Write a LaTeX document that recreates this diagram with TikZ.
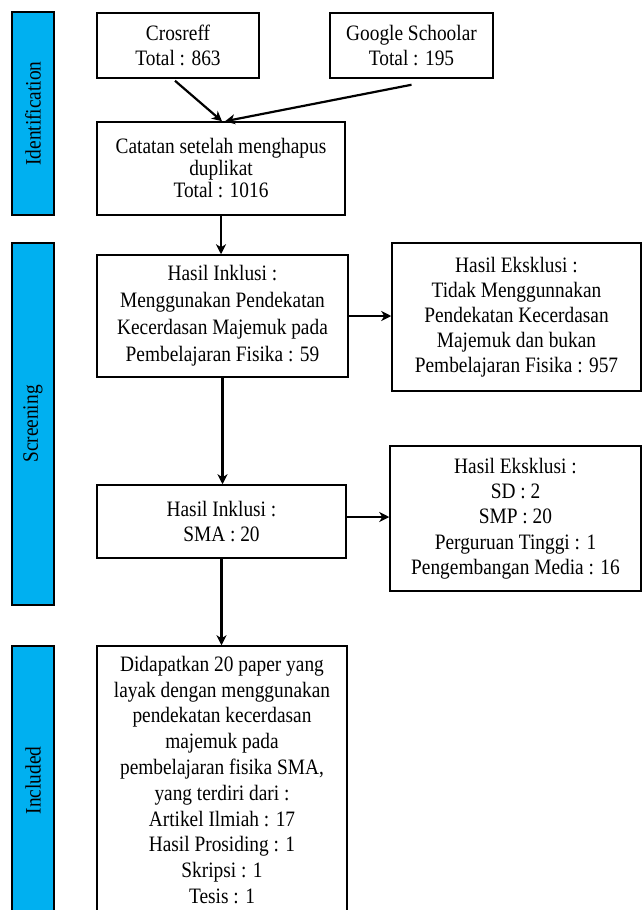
\documentclass[tikz,border=0pt]{standalone}
\usepackage{fontspec}
\usepackage{graphicx}
\setmainfont{Liberation Serif}[FakeStretch=0.88]
\usetikzlibrary{arrows.meta}
\definecolor{barblue}{HTML}{00B0F0}
\tikzset{
  box/.style={draw=black, line width=1.5pt, fill=white, align=center, inner sep=0pt, font=\fontsize{22}{25}\selectfont},
  bar/.style={draw=black, line width=1.5pt, fill=barblue, inner sep=0pt, font=\fontsize{22}{25}\selectfont},
  arr/.style={line width=2.2pt, -{Stealth[length=10pt,width=10pt,inset=3pt]}},
}
\begin{document}
\begin{tikzpicture}[x=1pt,y=-1pt]
\useasboundingbox (0,0) rectangle (643,910);
\clip (0,0) rectangle (643,910);
\fill[white] (0,0) rectangle (643,910);
% stage bars
\node[bar, minimum width=42, minimum height=203] (id) at (33,113.5) {\rotatebox{90}{Identification}};
\node[bar, minimum width=42, minimum height=362] (scr) at (33,424) {\rotatebox{90}{Screening}};
\node[bar, minimum width=42, minimum height=269] (inc) at (33,780.5) {\rotatebox{90}{Included}};
% boxes
\node[box, minimum width=162, minimum height=65] (crf) at (178,45.5) {Crosreff\\Total : 863};
\node[box, minimum width=163, minimum height=65] (ggl) at (411.5,45.5) {Google Schoolar\\Total : 195};
\node[box, minimum width=248, minimum height=93, font=\fontsize{22}{22}\selectfont] (cat) at (221,168.5) {Catatan setelah menghapus\\duplikat\\Total : 1016};
\node[box, minimum width=251, minimum height=122, font=\fontsize{22}{27}\selectfont] (hi1) at (222.5,316) {Hasil Inklusi :\\Menggunakan Pendekatan\\Kecerdasan Majemuk pada\\Pembelajaran Fisika : 59};
\node[box, minimum width=249, minimum height=148] (ek1) at (516.5,317) {Hasil Eksklusi :\\Tidak Menggunnakan\\Pendekatan Kecerdasan\\Majemuk dan bukan\\Pembelajaran Fisika : 957};
\node[box, minimum width=249, minimum height=73] (hi2) at (221.5,521.5) {Hasil Inklusi :\\SMA : 20};
\node[box, minimum width=251, minimum height=145, font=\fontsize{22}{25.3}\selectfont] (ek2) at (515.5,518.5) {Hasil Eksklusi :\\SD : 2\\SMP : 20\\Perguruan Tinggi : 1\\Pengembangan Media : 16};
\node[box, minimum width=250, minimum height=268, font=\fontsize{22}{25.8}\selectfont] (fin) at (222,780) {Didapatkan 20 paper yang\\layak dengan menggunakan\\pendekatan kecerdasan\\majemuk pada\\pembelajaran fisika SMA,\\yang terdiri dari :\\Artikel Ilmiah : 17\\Hasil Prosiding : 1\\Skripsi : 1\\Tesis : 1};
% connectors
\draw[arr] ([xshift=-3pt,yshift=-2pt]crf.south) -- ([xshift=1pt]cat.north);
\draw[arr] ([yshift=-6pt]ggl.south) -- ([xshift=4pt]cat.north);
\draw[arr] (cat.south) -- (cat.south |- hi1.north);
\draw[arr] (hi1.east) -- (hi1.east -| ek1.west);
\draw[arr] (hi1.south) -- (hi1.south |- hi2.north);
\draw[arr] ([yshift=4.5pt]hi2.east) -- ([yshift=4.5pt]hi2.east -| ek2.west);
\draw[arr] (hi2.south) -- (hi2.south |- fin.north);
\end{tikzpicture}
\end{document}
